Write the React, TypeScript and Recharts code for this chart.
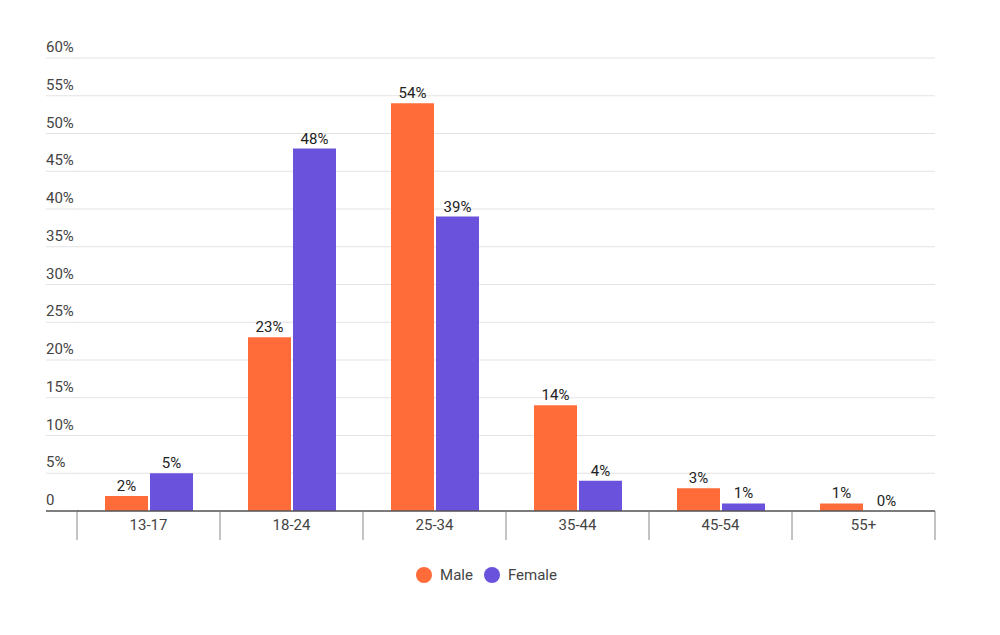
import React from 'react';
import { BarChart, Bar, XAxis, YAxis, CartesianGrid, Legend, LabelList } from 'recharts';

const categories = ['13-17', '18-24', '25-34', '35-44', '45-54', '55+'];
const maleValues = [2, 23, 54, 14, 3, 1];
const femaleValues = [5, 48, 39, 4, 1, 0];
const yTicks = [0, 5, 10, 15, 20, 25, 30, 35, 40, 45, 50, 55, 60];

const MALE = '#FF6B39';
const FEMALE = '#6B52DC';

const data = categories.map((name, i) => ({
  name,
  Male: maleValues[i],
  Female: femaleValues[i],
}));

const XTick = (props: any) => {
  const { x, y, payload, index } = props;
  const half = payload && payload.offset ? payload.offset : 71.5;
  const last = index === categories.length - 1;
  return (
    <g>
      <line x1={x - half} x2={x - half} y1={y} y2={y + 29} stroke="#888" strokeWidth={1} />
      {last && <line x1={x + half} x2={x + half} y1={y} y2={y + 29} stroke="#888" strokeWidth={1} />}
      <text x={x} y={y + 19} textAnchor="middle" fontSize={15} fill="#444">
        {payload.value}
      </text>
    </g>
  );
};

const YTick = (props: any) => {
  const { y, payload } = props;
  const zero = payload.value === 0;
  return (
    <g>
      <line
        x1={46}
        x2={78}
        y1={y}
        y2={y}
        stroke={zero ? '#555' : '#e3e3e3'}
        strokeWidth={zero ? 1.5 : 1}
      />
      <text x={46} y={y - 6} textAnchor="start" fontSize={15} fill="#444">
        {zero ? '0' : `${payload.value}%`}
      </text>
    </g>
  );
};

const LegendContent = () => (
  <div style={{ display: 'flex', justifyContent: 'center', alignItems: 'center', fontSize: 15, color: '#444' }}>
    <span style={{ display: 'inline-block', width: 16, height: 16, borderRadius: 8, background: MALE, marginRight: 8 }} />
    <span style={{ marginRight: 11 }}>Male</span>
    <span style={{ display: 'inline-block', width: 16, height: 16, borderRadius: 8, background: FEMALE, marginRight: 8 }} />
    <span>Female</span>
  </div>
);

export default function App() {
  return (
    <div style={{ position: 'absolute', left: 0, top: 0, fontFamily: 'Roboto, sans-serif' }}>
      <BarChart
        width={1000}
        height={635}
        data={data}
        margin={{ top: 58, right: 65, left: 0, bottom: 94 }}
        barSize={43}
        barGap={2}
      >
        <CartesianGrid horizontal vertical={false} stroke="#e3e3e3" />
        <YAxis
          width={77}
          domain={[0, 60]}
          ticks={yTicks}
          axisLine={false}
          tickLine={false}
          tick={<YTick />}
          interval={0}
        />
        <XAxis
          dataKey="name"
          height={30}
          tickSize={0}
          tickMargin={0}
          tickLine={false}
          axisLine={{ stroke: '#555', strokeWidth: 1.5 }}
          tick={<XTick />}
          interval={0}
        />
        <Legend
          layout="horizontal"
          verticalAlign="middle"
          align="center"
          wrapperStyle={{ top: 566, left: 0, width: 973 }}
          content={<LegendContent />}
        />
        <Bar dataKey="Male" fill={MALE} isAnimationActive={false}>
          <LabelList dataKey="Male" position="top" formatter={(v: any) => `${v}%`} fontSize={15} fill="#222" />
        </Bar>
        <Bar dataKey="Female" fill={FEMALE} minPointSize={0.01} isAnimationActive={false}>
          <LabelList dataKey="Female" position="top" formatter={(v: any) => `${v}%`} fontSize={15} fill="#222" />
        </Bar>
      </BarChart>
    </div>
  );
}
